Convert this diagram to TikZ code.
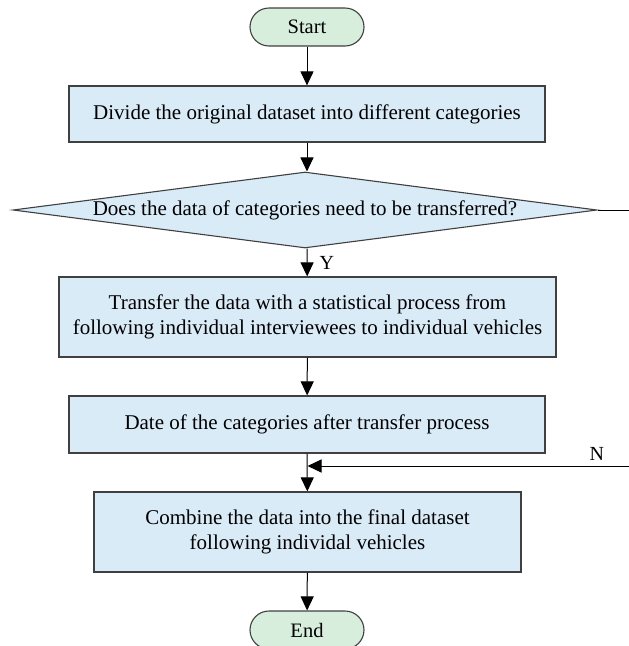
\documentclass[tikz,border=0pt]{standalone}
\usepackage{fontspec}
\setmainfont{Liberation Serif}
\usetikzlibrary{shapes.geometric,arrows.meta}
\definecolor{boxblue}{RGB}{217,235,247}
\definecolor{termgreen}{RGB}{216,238,220}
\definecolor{edgegray}{RGB}{64,64,64}
\tikzset{
    proc/.style={draw=edgegray,line width=1.2pt,fill=boxblue,align=center,
        font=\fontsize{21}{25}\selectfont,inner sep=0pt},
    term/.style={draw=edgegray,line width=1.1pt,fill=termgreen,rounded corners=19pt,
        minimum width=114pt,minimum height=38pt,font=\fontsize{20.5}{22}\selectfont},
    decide/.style={diamond,draw=edgegray,line width=1.1pt,fill=boxblue,aspect=7.7,
        minimum width=584pt,minimum height=76pt,inner sep=0pt,
        font=\fontsize{21}{22}\selectfont},
    flow/.style={line width=1pt,-{Triangle[length=14pt,width=13pt]}},
    mark label/.style={font=\fontsize{20}{22}\selectfont}
}
\begin{document}
\begin{tikzpicture}[x=1pt,y=-1pt]
    \useasboundingbox (0,0) rectangle (629,646);
    %% Terminals
    \node[term] (start) at (307,27) {Start};
    \node[term] (end) at (307,630) {End};
    %% Process boxes
    \node[proc,minimum width=476pt,minimum height=56pt] (divide) at (307,114)
        {Divide the original dataset into different categories};
    \node[decide] (need) at (305,210) {Does the data of categories need to be transferred?};
    \node[proc,minimum width=497pt,minimum height=80pt] (transfer) at (307.5,317)
        {Transfer the data with a statistical process from\\following individual interviewees to individual vehicles};
    \node[proc,minimum width=476pt,minimum height=57pt] (date) at (307,424.5)
        {Date of the categories after transfer process};
    \node[proc,minimum width=427pt,minimum height=80pt] (combine) at (307.5,532)
        {Combine the data into the final dataset\\following individal vehicles};
    %% Side branch
    \coordinate (outA) at (629,210);
    \coordinate (outB) at (629,466);
    %% Connectors
    \draw[flow] (start) -- (divide);
    \draw[flow] (divide) -- (need.north -| divide.south);
    \draw[flow] (need.south -| divide.south) -- node[right,mark label,inner sep=0pt,xshift=12pt] {Y} (transfer);
    \draw[flow] (transfer) -- (date);
    \draw[flow] (date) -- (combine);
    \draw[flow] (combine) -- (end);
    \draw[line width=1pt] (need.east) -- (outA);
    \draw[flow] (outB) -- node[pos=0.1,above,mark label,inner sep=5pt] {N} (combine.north |- outB);
\end{tikzpicture}
\end{document}
